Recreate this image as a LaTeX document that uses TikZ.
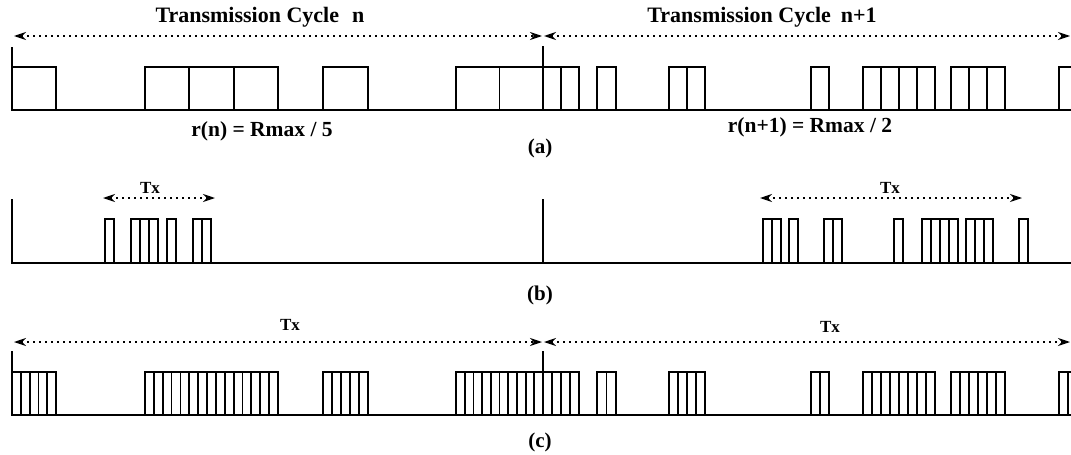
\documentclass[tikz,border=0pt]{standalone}
\usepackage{fontspec}
\setmainfont{Liberation Serif}
\usetikzlibrary{arrows.meta}
\begin{document}
\begin{tikzpicture}[x=1pt,y=-1pt,
  wave/.style={line width=1.8pt, line join=miter},
  tick/.style={line width=1.5pt},
  span/.style={line width=1.4pt, dash pattern=on 1.6pt off 4.4pt,
    {Stealth[length=12pt,width=8pt]}-{Stealth[length=12pt,width=8pt]}},
  title/.style={font=\bfseries\fontsize{22}{26}\selectfont, inner sep=0pt},
  rate/.style={font=\bfseries\fontsize{21.5}{25}\selectfont, inner sep=0pt},
  sub/.style={font=\bfseries\fontsize{21}{25}\selectfont, inner sep=0pt},
  txlab/.style={font=\bfseries\fontsize{17}{20}\selectfont, inner sep=0pt}]
\useasboundingbox (0,0) rectangle (1071,455);

% ---------- texts ----------
\node[title] (tn)  at (260,17) {Transmission Cycle\hspace{0.6em}n};
\node[title] (tn1) at (762,17) {Transmission Cycle\hspace{0.45em}n+1};
\node[rate] (rn)  at (262,131) {r(n) = Rmax / 5};
\node[rate] (rn1) at (810,127) {r(n+1) = Rmax / 2};
\node[sub] (la) at (540,148) {(a)};
\node[sub] (lb) at (540,295) {(b)};
\node[sub] (lc) at (540,442) {(c)};
\node[txlab] (txb1) at (150,188) {Tx};
\node[txlab] (txb2) at (890,188) {Tx};
\node[txlab] (txc1) at (290,325) {Tx};
\node[txlab] (txc2) at (830,327) {Tx};

% ---------- span arrows ----------
\coordinate (a1) at (14,36);  \coordinate (a2) at (542,36);
\coordinate (a3) at (544,36); \coordinate (a4) at (1070,36);
\draw[span] (a1) -- (a2);
\draw[span] (a3) -- (a4);
\coordinate (b1) at (103,198); \coordinate (b2) at (215,198);
\coordinate (b3) at (760,198); \coordinate (b4) at (1022,198);
\draw[span] (b1) -- (b2);
\draw[span] (b3) -- (b4);
\coordinate (c1) at (14,342);  \coordinate (c2) at (542,342);
\coordinate (c3) at (544,342); \coordinate (c4) at (1070,342);
\draw[span] (c1) -- (c2);
\draw[span] (c3) -- (c4);

\begin{scope}
\clip (0,0) rectangle (1071,455);
% ---------- row (a) ----------
\draw[wave] (12,47) -- (12,110) -- (1071,110);
\draw[tick] (543,46) -- (543,110);
\foreach \s/\n/\w in {12/1/44, 145/3/44.3, 323/1/45, 456/2/43.5,
    543/2/18, 597/1/19, 669/2/18, 811/1/18, 863/4/18, 951/3/18, 1059/1/18}{
  \foreach \k in {1,...,\n}{
    \draw[wave] ({\s+(\k-1)*\w},110) rectangle ({\s+\k*\w},67);
  }
}
% ---------- row (b) ----------
\draw[wave] (12,199) -- (12,263) -- (1071,263);
\draw[tick] (543,199) -- (543,263);
\foreach \s/\n/\w in {105/1/9, 131/3/9, 167/1/9, 193/2/9,
    763/2/9, 789/1/9, 824/2/9, 894/1/9, 922/4/9, 966/3/9, 1019/1/9}{
  \foreach \k in {1,...,\n}{
    \draw[wave] ({\s+(\k-1)*\w},263) rectangle ({\s+\k*\w},219);
  }
}
% ---------- row (c) ----------
\draw[wave] (12,351) -- (12,415) -- (1071,415);
\draw[tick] (543,351) -- (543,415);
\foreach \s/\n/\w in {12/5/8.8, 145/15/8.86, 323/5/9, 456/10/8.7,
    543/4/9, 597/2/9.5, 669/4/9, 811/2/9, 863/8/9, 951/6/9, 1059/2/9}{
  \foreach \k in {1,...,\n}{
    \draw[wave] ({\s+(\k-1)*\w},415) rectangle ({\s+\k*\w},372);
  }
}
\end{scope}
\end{tikzpicture}
\end{document}
